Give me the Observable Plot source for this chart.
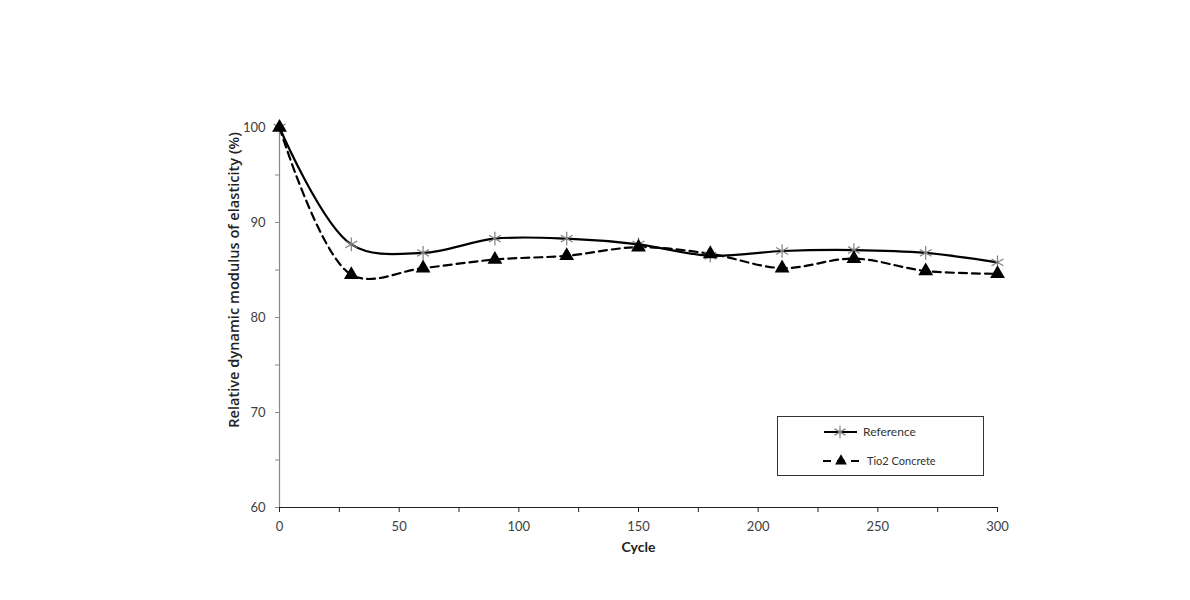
<!DOCTYPE html>
<html>
<head>
<meta charset="utf-8">
<script src="https://cdn.jsdelivr.net/npm/d3@7"></script>
<script src="https://cdn.jsdelivr.net/npm/@observablehq/plot@0.6"></script>
<style>
  html, body { margin: 0; padding: 0; background: #fff; }
  #chart { width: 1190px; height: 600px; }
</style>
</head>
<body>
<div id="chart"></div>
<script>
const cycles = [0, 30, 60, 90, 120, 150, 180, 210, 240, 270, 300];
const referenceValues = [100, 87.7, 86.8, 88.3, 88.3, 87.7, 86.5, 87.0, 87.1, 86.8, 85.8];
const tio2Values = [100, 84.5, 85.2, 86.1, 86.5, 87.4, 86.7, 85.2, 86.2, 84.9, 84.6];
const seriesNames = ["Reference", "Tio2 Concrete"];
const xTicks = [0, 25, 50, 75, 100, 125, 150, 175, 200, 225, 250, 275, 300];
const yTicks = [60, 65, 70, 75, 80, 85, 90, 95, 100];
const xLabel = "Cycle";
const yLabel = "Relative dynamic modulus of elasticity (%)";

const refData = cycles.map((c, i) => ({cycle: c, value: referenceValues[i]}));
const tioData = cycles.map((c, i) => ({cycle: c, value: tio2Values[i]}));

const font = "Lato, 'Open Sans', sans-serif";

const chart = Plot.plot({
  width: 1190,
  height: 600,
  marginLeft: 279,
  marginRight: 193,
  marginTop: 127,
  marginBottom: 93,
  style: {fontFamily: font, fontSize: "13px", color: "#404040", background: "#fff"},
  x: {domain: [0, 300]},
  y: {domain: [60, 100]},
  marks: [
    Plot.axisX({ticks: xTicks, tickFormat: d => d % 50 === 0 ? d : "", tickSize: 5, tickPadding: 9, label: null, stroke: "#222", color: "#404040"}),
    Plot.axisY({ticks: yTicks, tickFormat: d => d % 10 === 0 ? d : "", tickSize: 4, tickPadding: 10, label: null, stroke: "#888", color: "#404040"}),
    Plot.ruleX([0], {stroke: "#888", strokeWidth: 1.2}),
    Plot.ruleY([60], {stroke: "#222", strokeWidth: 1.2}),
    Plot.line(tioData, {x: "cycle", y: "value", curve: "catmull-rom", stroke: "#000", strokeWidth: 2.2, strokeDasharray: "8,5"}),
    Plot.line(refData, {x: "cycle", y: "value", curve: "catmull-rom", stroke: "#000", strokeWidth: 2.2}),
    Plot.dot(refData, {x: "cycle", y: "value", symbol: "asterisk", r: 6.5, stroke: "#808080", strokeWidth: 1.2}),
    Plot.dot(tioData, {x: "cycle", y: "value", symbol: "triangle", r: 5.5, fill: "#000", stroke: "none"}),
    Plot.text([xLabel], {frameAnchor: "bottom", dy: 44, fontWeight: "bold", fontSize: 14, fill: "#222"})
  ]
});

const svg = d3.select(chart);
// Y axis title
svg.append("text")
  .attr("transform", "translate(239,280) rotate(-90)")
  .attr("text-anchor", "middle")
  .attr("font-family", "'Open Sans', sans-serif")
  .attr("font-weight", 600)
  .attr("font-size", 14.6)
  .attr("fill", "#222")
  .text(yLabel);

// Legend box
const lg = svg.append("g").attr("font-family", font).attr("font-size", 12).attr("fill", "#333").attr("text-anchor", "start");
lg.append("rect").attr("x", 777.5).attr("y", 416.5).attr("width", 206).attr("height", 59)
  .attr("fill", "#fff").attr("stroke", "#333").attr("stroke-width", 1);
// Reference entry
lg.append("line").attr("x1", 824).attr("x2", 857).attr("y1", 432).attr("y2", 432).attr("stroke", "#000").attr("stroke-width", 2.2);
lg.append("path").attr("transform", "translate(840,432)")
  .attr("d", d3.symbol(d3.symbolAsterisk, 110)()).attr("fill", "none").attr("stroke", "#808080").attr("stroke-width", 1.2);
lg.append("text").attr("x", 863).attr("y", 436).text(seriesNames[0]);
// Tio2 entry
lg.append("line").attr("x1", 823).attr("x2", 859).attr("y1", 461).attr("y2", 461).attr("stroke", "#000").attr("stroke-width", 2.2).attr("stroke-dasharray", "8,6");
lg.append("path").attr("transform", "translate(841,461)")
  .attr("d", d3.symbol(d3.symbolTriangle, 60)()).attr("fill", "#000");
lg.append("text").attr("x", 867).attr("y", 465).attr("font-size", 11).text(seriesNames[1]);

document.getElementById("chart").appendChild(chart);
</script>
</body>
</html>
